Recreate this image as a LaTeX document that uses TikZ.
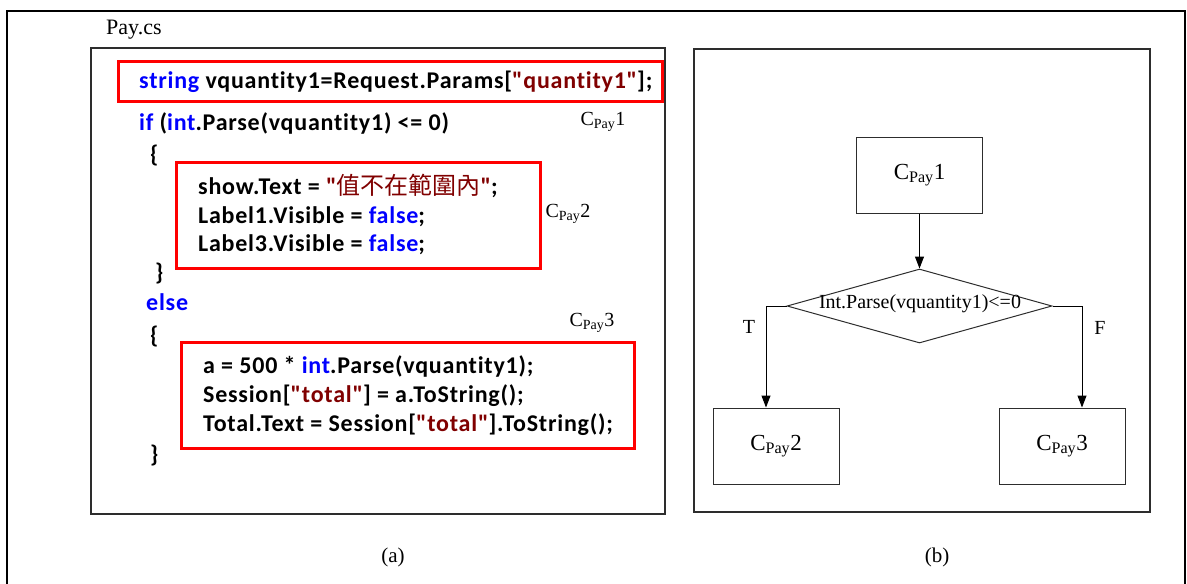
\documentclass[tikz,border=0pt]{standalone}
\usepackage{fontspec}
\setmainfont{Liberation Serif}
\newfontfamily\codefont[Ligatures=NoCommon,LetterSpace=3.2]{Carlito}
\newfontfamily\cjkfont{Noto Sans CJK TC}
\usetikzlibrary{shapes.geometric,arrows.meta}
\definecolor{kwblue}{RGB}{0,0,255}
\definecolor{strred}{RGB}{128,0,0}
\definecolor{boxred}{RGB}{255,0,0}
\definecolor{framegray}{RGB}{45,45,45}
\newcommand{\kw}[1]{\textcolor{kwblue}{#1}}
\newcommand{\strlit}[1]{\textcolor{strred}{#1}}
\newcommand{\cpay}[1]{C\textsubscript{Pay}#1}
\tikzset{
  code/.style={anchor=base west, inner sep=0pt, font=\codefont\bfseries\fontsize{24}{28}\selectfont},
  redbox/.style={draw=boxred, line width=3pt},
  panel/.style={draw=framegray, line width=1.2pt},
  flowbox/.style={draw=framegray, line width=1pt, minimum width=126pt, minimum height=76pt, inner sep=0pt, font=\fontsize{23}{26}\selectfont},
  arrow/.style={draw=black, line width=1pt, -{Triangle[length=12pt,width=9pt]}},
  tag/.style={inner sep=0pt, font=\fontsize{20}{23}\selectfont}
}
\begin{document}
\begin{tikzpicture}[x=1pt, y=-1pt]
	\useasboundingbox (0,0) rectangle (1187,584);
	% outer frame, open at the bottom
	\draw[line width=2pt] (7,584) -- (7,11) -- (1185,11) -- (1185,584);
	% (a) source code
	\node[anchor=west, inner sep=0pt, font=\fontsize{22}{26}\selectfont] (file) at (106,30) {Pay.cs};
	\draw[panel] (91,48) rectangle (665,514);
	\draw[redbox] (118,61) rectangle (662,101);
	\draw[redbox] (176,162) rectangle (540,268);
	\draw[redbox] (181,342) rectangle (634,448);
	\node[code] (l1) at (139,88) {\kw{string} vquantity1=Request.Params[\strlit{"quantity1"}];};
	\node[code] (l2) at (139,130) {\kw{if} (\kw{int}.Parse(vquantity1) <= 0)};
	\node[code] (l3) at (150,162) {\{};
	\node[code] (l4) at (198,194) {show.Text = \strlit{"{\cjkfont\mdseries 值不在範圍內}"};};
	\node[code] (l5) at (198,223) {Label1.Visible = \kw{false};};
	\node[code] (l6) at (198,251) {Label3.Visible = \kw{false};};
	\node[code] (l7) at (155,280) {\}};
	\node[code] (l8) at (146,310) {\kw{else}};
	\node[code] (l9) at (150,343) {\{};
	\node[code] (l10) at (203,373) {a = 500 * \kw{int}.Parse(vquantity1);};
	\node[code] (l11) at (203,402) {Session[\strlit{"total"}] = a.ToString();};
	\node[code] (l12) at (203,431) {Total.Text = Session[\strlit{"total"}].ToString();};
	\node[code] (l13) at (150,462) {\}};
	\node[tag] (t1) at (603,122) {\cpay{1}};
	\node[tag] (t2) at (568,214) {\cpay{2}};
	\node[tag] (t3) at (592,323) {\cpay{3}};
	\node[font=\fontsize{21}{24}\selectfont] (capa) at (393,557) {(a)};
	% (b) flow chart
	\draw[panel] (694,49) rectangle (1150,512);
	\node[flowbox] (c1) at (919.5,175) {\cpay{1}};
	\node[diamond, draw=framegray, line width=1pt, minimum width=265pt, minimum height=74pt, inner sep=0pt] (cond) at (919.5,306) {};
	\node[inner sep=0pt, font=\fontsize{20}{24}\selectfont] (condtext) at (920,304) {Int.Parse(vquantity1)<=0};
	\node[flowbox] (c2) at (776,446) {\cpay{2}};
	\node[flowbox] (c3) at (1062,446) {\cpay{3}};
	\draw[arrow] (c1) -- (cond);
	\draw[arrow] (cond.west) -| ([xshift=-10pt]c2.north);
	\draw[arrow] (cond.east) -| ([xshift=20pt]c3.north);
	\node[tag] (lt) at (749,327) {T};
	\node[tag] (lf) at (1100,328) {F};
	\node[font=\fontsize{21}{24}\selectfont] (capb) at (937,557) {(b)};
\end{tikzpicture}
\end{document}
